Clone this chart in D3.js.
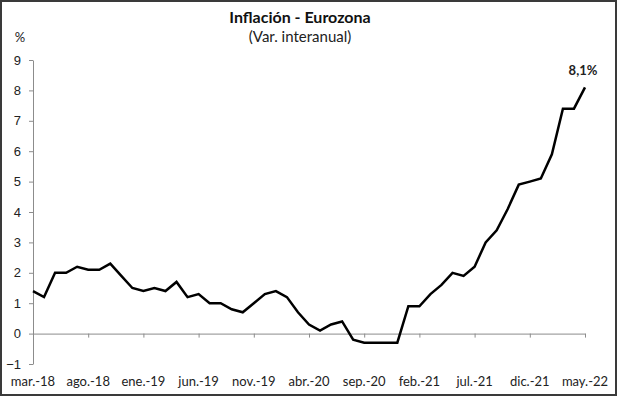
<!DOCTYPE html>
<html>
<head>
<meta charset="utf-8">
<script src="https://cdn.jsdelivr.net/npm/d3@7"></script>
<style>
  body { margin: 0; background: #fff; }
  svg { display: block; font-family: Lato, "Open Sans", sans-serif; }
</style>
</head>
<body>
<svg id="chart" width="617" height="396"></svg>
<script>
// monthly labels, mar-18 .. may-22
const monthNames = ['ene.', 'feb.', 'mar.', 'abr.', 'may.', 'jun.', 'jul.', 'ago.', 'sep.', 'oct.', 'nov.', 'dic.'];
const years = ['18', '19', '20', '21', '22'];
const yTicks = [-1, 0, 1, 2, 3, 4, 5, 6, 7, 8, 9];

// year-on-year HICP %, one value per month
const inflation = [
  1.4, 1.2, 2.0, 2.0, 2.2, 2.1, 2.1, 2.3, 1.9, 1.5,
  1.4, 1.5, 1.4, 1.7, 1.2, 1.3, 1.0, 1.0, 0.8, 0.7, 1.0, 1.3,
  1.4, 1.2, 0.7, 0.3, 0.1, 0.3, 0.4, -0.2, -0.3, -0.3, -0.3, -0.3,
  0.9, 0.9, 1.3, 1.6, 2.0, 1.9, 2.2, 3.0, 3.4, 4.1, 4.9, 5.0,
  5.1, 5.9, 7.4, 7.4, 8.1
];

const months = [];
years.forEach((yy, yi) => {
  monthNames.forEach((m, mi) => {
    if (yi === 0 && mi < 2) return;
    if (yi === 4 && mi > 4) return;
    months.push(m + '-' + yy);
  });
});

const width = 617, height = 396;
const svg = d3.select('#chart');

// outer frame
svg.append('rect')
  .attr('x', 1).attr('y', 1)
  .attr('width', width - 2).attr('height', height - 2)
  .attr('fill', 'none')
  .attr('stroke', '#3a3a3a')
  .attr('stroke-width', 2);

const x = d3.scalePoint().domain(months).range([33, 585]);
const y = d3.scaleLinear().domain([-1, 9]).range([364, 60]);

// y axis
const yAxis = svg.append('g')
  .attr('transform', 'translate(33,0)')
  .call(d3.axisLeft(y).tickValues(yTicks).tickSize(4).tickSizeOuter(0).tickPadding(8));
yAxis.select('.domain').attr('stroke', '#8c8c8c');
yAxis.selectAll('.tick line').attr('stroke', '#8c8c8c');
yAxis.selectAll('.tick text')
  .attr('fill', '#222')
  .style('font-size', '13px');

// x axis along zero
const labelMonths = months.filter((_, i) => i % 5 === 0);
const xAxis = svg.append('g')
  .attr('transform', `translate(0,${y(0)})`)
  .call(d3.axisBottom(x).tickValues(labelMonths).tickSize(4).tickSizeOuter(0).tickFormat(''));
xAxis.select('.domain').attr('stroke', '#8c8c8c');
xAxis.selectAll('.tick line').attr('stroke', '#8c8c8c');

// month labels below the plot
svg.append('g')
  .selectAll('text')
  .data(labelMonths)
  .enter().append('text')
  .attr('x', d => x(d))
  .attr('y', 386)
  .attr('text-anchor', 'middle')
  .attr('fill', '#222')
  .style('font-size', '13px')
  .text(d => d);

// line
const line = d3.line()
  .x((d, i) => x(months[i]))
  .y(d => y(d));

svg.append('path')
  .datum(inflation)
  .attr('d', line)
  .attr('fill', 'none')
  .attr('stroke', '#000')
  .attr('stroke-width', 2.5)
  .attr('stroke-linejoin', 'miter');

// last value label
const last = inflation[inflation.length - 1];
svg.append('text')
  .attr('x', x(months[months.length - 1]) - 2)
  .attr('y', y(last) - 12)
  .attr('text-anchor', 'middle')
  .attr('fill', '#222')
  .style('font-size', '13px')
  .style('font-weight', '700')
  .text(String(last).replace('.', ',') + '%');

// titles
svg.append('text')
  .attr('x', 300).attr('y', 23)
  .attr('text-anchor', 'middle')
  .attr('fill', '#111')
  .style('font-size', '16px')
  .style('font-weight', '700')
  .text('Inflación - Eurozona');

svg.append('text')
  .attr('x', 300).attr('y', 42)
  .attr('text-anchor', 'middle')
  .attr('fill', '#222')
  .style('font-size', '15px')
  .text('(Var. interanual)');

svg.append('text')
  .attr('x', 20).attr('y', 42)
  .attr('text-anchor', 'middle')
  .attr('fill', '#222')
  .style('font-size', '13px')
  .text('%');
</script>
</body>
</html>
